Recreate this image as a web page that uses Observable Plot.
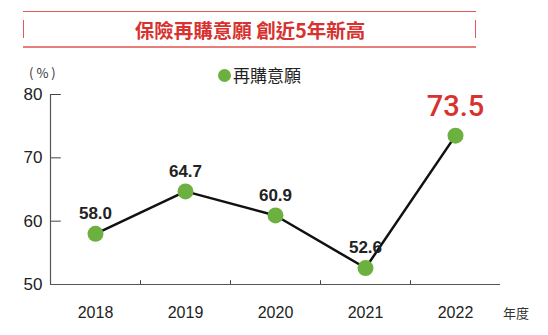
<!DOCTYPE html>
<html><head><meta charset="utf-8">
<script src="https://cdn.jsdelivr.net/npm/d3@7"></script>
<script src="https://cdn.jsdelivr.net/npm/@observablehq/plot@0.6"></script>
<style>
body{margin:0;background:#fff;font-family:"Liberation Sans",Arial,"Noto Sans CJK TC",sans-serif;}
#wrap{position:relative;width:548px;height:335px;}
#title{position:relative;height:55px;}
#title .top{position:absolute;left:23px;top:11px;width:453px;height:0;border-top:1px solid #e05a5a;}
#title .bot{position:absolute;left:23px;top:46px;width:453px;height:0;border-top:2px solid #e87d7a;}
#title .lb{position:absolute;left:23px;top:20px;height:18px;border-left:1.5px solid #e05a5a;}
#title .rb{position:absolute;left:475px;top:20px;height:18px;border-left:1.5px solid #e05a5a;}
#title .t{position:absolute;left:0;width:500px;top:18px;text-align:center;color:#d7322f;font-weight:bold;font-size:19.5px;line-height:24px;font-family:"Noto Sans CJK TC",sans-serif;}
#legend{position:absolute;left:218px;top:64px;font-size:17px;color:#222;font-family:"Noto Sans CJK TC",sans-serif;line-height:22px;display:flex;align-items:center;}
#legend .dot{width:13px;height:13px;border-radius:50%;background:#6cb13f;margin-right:2px;}
#unit{position:absolute;left:29px;top:63px;font-size:13px;letter-spacing:3px;color:#333;font-family:"Noto Sans CJK TC",sans-serif;}
#nendo{position:absolute;left:503px;top:303px;font-size:13px;color:#333;font-family:"Noto Sans CJK TC",sans-serif;}
</style></head>
<body>
<div id="wrap">
  <div id="title"><div class="top"></div><div class="lb"></div><div class="rb"></div><div class="bot"></div><div class="t" id="ttext"></div></div>
  <div id="chart"></div>
  <div id="unit"></div>
  <div id="legend"><div class="dot"></div><span id="ltext"></span></div>
  <div id="nendo"></div>
</div>
<script>
const titleText = "保險再購意願 創近5年新高";
const seriesName = "再購意願";
const unitLabel = "(%)";
const xUnitLabel = "年度";
const years = [2018, 2019, 2020, 2021, 2022];
const values = [58.0, 64.7, 60.9, 52.6, 73.5];
const yTicks = [50, 60, 70, 80];
const dividers = [2018.5, 2019.5, 2020.5, 2021.5];

document.getElementById("ttext").textContent = titleText;
document.getElementById("ltext").textContent = seriesName;
document.getElementById("unit").textContent = unitLabel;
document.getElementById("nendo").textContent = xUnitLabel;

const data = years.map((y, i) => ({year: y, value: values[i], last: i === years.length - 1}));
const normal = data.filter(d => !d.last);
const last = data.filter(d => d.last);

const chart = Plot.plot({
  width: 548,
  height: 280,
  marginLeft: 50,
  marginRight: 48,
  marginTop: 39,
  marginBottom: 51,
  style: {fontFamily: "Liberation Sans, Arial, sans-serif", background: "transparent", overflow: "visible"},
  x: {domain: [2017.5, 2022.5]},
  y: {domain: [50, 80]},
  marks: [
    Plot.axisX({ticks: years, tickFormat: d => String(d), tickSize: 0, tickPadding: 22, fontSize: 16, label: null, color: "#222"}),
    Plot.axisY({ticks: yTicks, tickSize: 0, tickPadding: 8, fontSize: 17, label: null, color: "#222"}),
    Plot.ruleY(yTicks.filter(t => t > 50), {x1: 2017.5, x2: 2017.62, stroke: "#444", strokeWidth: 1}),
    Plot.ruleX(dividers, {y1: 50, y2: 50.6, stroke: "#444", strokeWidth: 1}),
    Plot.ruleX([2017.5], {y1: 50, y2: 80, stroke: "#555", strokeWidth: 1.2}),
    Plot.ruleY([50], {stroke: "#555", strokeWidth: 1.2}),
    Plot.line(data, {x: "year", y: "value", stroke: "#111", strokeWidth: 2.5}),
    Plot.dot(data, {x: "year", y: "value", r: 8, fill: "#6cb13f", stroke: "none"}),
    Plot.text(normal, {x: "year", y: "value", text: d => d.value.toFixed(1), dy: -20, fontSize: 17, fontWeight: "bold", fill: "#222"}),
    Plot.text(last, {x: "year", y: "value", text: d => d.value.toFixed(1), dy: -29, fontSize: 29, fontWeight: 500, fontFamily: "Roboto, sans-serif", fill: "#d7322f"})
  ]
});
document.getElementById("chart").appendChild(chart);
</script>
</body></html>
